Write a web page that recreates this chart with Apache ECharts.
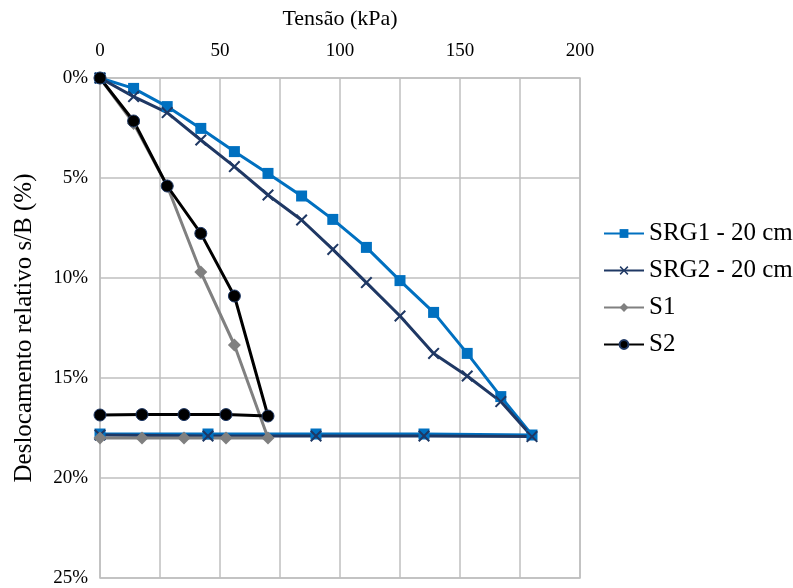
<!DOCTYPE html>
<html>
<head>
<meta charset="utf-8">
<script src="https://cdn.jsdelivr.net/npm/echarts@6/dist/echarts.min.js"></script>
<style>html,body{margin:0;padding:0;background:#fff}#c{width:793px;height:588px}</style>
</head>
<body>
<div id="c"></div>
<script>
var seriesNames = ['SRG1 - 20 cm', 'SRG2 - 20 cm', 'S1', 'S2'];
var srg1X = [0, 14, 28, 42, 56, 70, 84, 97, 111, 125, 139, 153, 167, 180, 135, 90, 45, 0];
var srg1Y = [0, 0.52, 1.43, 2.52, 3.68, 4.77, 5.9, 7.07, 8.47, 10.13, 11.72, 13.77, 15.93, 17.85, 17.8, 17.8, 17.8, 17.8];
var srg2X = [0, 14, 28, 42, 56, 70, 84, 97, 111, 125, 139, 153, 167, 180, 135, 90, 45, 0];
var srg2Y = [0, 0.93, 1.73, 3.1, 4.43, 5.85, 7.1, 8.57, 10.23, 11.9, 13.77, 14.9, 16.18, 17.93, 17.9, 17.9, 17.9, 17.85];
var s1X = [0, 14, 28, 42, 56, 70, 52.5, 35, 17.5, 0];
var s1Y = [0, 2.27, 5.4, 9.7, 13.35, 18.0, 18.0, 18.0, 18.0, 18.0];
var s2X = [0, 14, 28, 42, 56, 70, 52.5, 35, 17.5, 0];
var s2Y = [0, 2.15, 5.4, 7.77, 10.9, 16.9, 16.83, 16.83, 16.83, 16.85];
var xTicks = [0, 50, 100, 150, 200];
var yTicks = [0, 5, 10, 15, 20, 25];

function pairs(xs, ys) { return xs.map(function (x, i) { return [x, ys[i]]; }); }

var serif = '"Liberation Serif", "DejaVu Serif", serif';
var xPath = 'path://M0,1.2L1.2,0L5,3.8L8.8,0L10,1.2L6.2,5L10,8.8L8.8,10L5,6.2L1.2,10L0,8.8L3.8,5Z';

var chart = echarts.init(document.getElementById('c'), null, {renderer: 'canvas'});
chart.setOption({
  animation: false,
  backgroundColor: '#fff',
  grid: {left: 100, right: 213, top: 78, bottom: 10, show: true, borderColor: '#BFBFBF', borderWidth: 1.5, outerBoundsMode: 'none', containLabel: false},
  legend: {
    orient: 'vertical', left: 598, top: 216, itemGap: 12, itemWidth: 40, itemHeight: 11,
    textStyle: {fontFamily: serif, fontSize: 25, color: '#000'},
    data: seriesNames
  },
  xAxis: {
    type: 'value', position: 'top', min: 0, max: 200, interval: 25,
    name: 'Tensão (kPa)', nameLocation: 'middle', nameGap: 48,
    nameTextStyle: {fontFamily: serif, fontSize: 22, color: '#000'},
    axisLine: {show: false}, axisTick: {show: false},
    axisLabel: {
      margin: 17, fontFamily: serif, fontSize: 19, color: '#000',
      formatter: function (v) { return xTicks.indexOf(v) >= 0 ? String(v) : ''; }
    },
    splitLine: {show: true, lineStyle: {color: '#BFBFBF', width: 1.5}}
  },
  yAxis: {
    type: 'value', inverse: true, min: 0, max: 25, interval: 5,
    name: 'Deslocamento relativo s/B (%)', nameLocation: 'middle', nameGap: 63,
    nameTextStyle: {fontFamily: serif, fontSize: 25, color: '#000'},
    axisLine: {show: false}, axisTick: {show: false},
    axisLabel: {
      margin: 12, fontFamily: serif, fontSize: 19, color: '#000',
      formatter: function (v) { return yTicks.indexOf(v) >= 0 ? v + '%' : ''; }
    },
    splitLine: {show: true, lineStyle: {color: '#BFBFBF', width: 1.5}}
  },
  series: [
    {
      name: seriesNames[0], type: 'line', data: pairs(srg1X, srg1Y),
      symbol: 'rect', symbolSize: 11,
      lineStyle: {color: '#0070C0', width: 3},
      itemStyle: {color: '#0070C0', borderColor: '#0070C0', borderWidth: 0}
    },
    {
      name: seriesNames[1], type: 'line', data: pairs(srg2X, srg2Y),
      symbol: xPath, symbolSize: 12,
      lineStyle: {color: '#1F3864', width: 3},
      itemStyle: {color: '#1F3864', borderWidth: 0}
    },
    {
      name: seriesNames[2], type: 'line', data: pairs(s1X, s1Y),
      symbol: 'diamond', symbolSize: 13,
      lineStyle: {color: '#808080', width: 3},
      itemStyle: {color: '#808080', borderWidth: 0}
    },
    {
      name: seriesNames[3], type: 'line', data: pairs(s2X, s2Y),
      symbol: 'circle', symbolSize: 12,
      lineStyle: {color: '#000000', width: 3},
      itemStyle: {color: '#000000', borderColor: '#1F3864', borderWidth: 1}
    }
  ]
});
</script>
</body>
</html>
